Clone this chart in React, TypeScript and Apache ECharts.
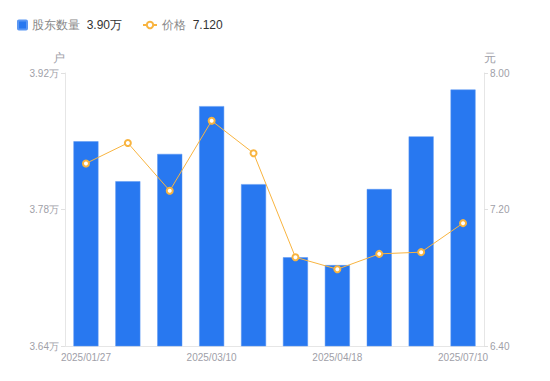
import React, { useEffect, useRef } from "react";
import * as echarts from "echarts";

const categories = [
  "2025/01/27", "2025/02/10", "2025/02/28", "2025/03/10", "2025/03/20",
  "2025/03/31", "2025/04/18", "2025/04/30", "2025/06/20", "2025/07/10",
];
const holders = [3.850, 3.809, 3.837, 3.886, 3.806, 3.731, 3.723, 3.801, 3.855, 3.903];
const prices = [7.47, 7.59, 7.31, 7.72, 7.53, 6.92, 6.85, 6.94, 6.95, 7.12];
const holderName = "股东数量";
const priceName = "价格";

export default function App() {
  const ref = useRef<HTMLDivElement>(null);
  useEffect(() => {
    if (!ref.current) return;
    const chart = echarts.init(ref.current, undefined, { renderer: "svg" });
    const lastH = holders[holders.length - 1].toFixed(2) + "万";
    const lastP = prices[prices.length - 1].toFixed(3);
    const font = "sans-serif";
    const legendText = {
      rich: {
        n: { color: "#888", fontSize: 12, fontFamily: font },
        v: { color: "#333", fontSize: 12, fontFamily: font },
      },
    };
    chart.setOption({
      animation: false,
      textStyle: { fontFamily: font },
      legend: [
        {
          left: 12,
          top: 14,
          itemWidth: 9,
          itemHeight: 9,
          itemGap: 5,
          data: [
            { name: holderName, icon: "path://M1,0H9A1,1,0,0,1,10,1V9A1,1,0,0,1,9,10H1A1,1,0,0,1,0,9V1A1,1,0,0,1,1,0Z" },
          ],
          formatter: (name: string) => `{n|${name}}  {v|${lastH}}`,
          textStyle: legendText,
        },
        {
          left: 137,
          top: 14,
          itemWidth: 14,
          itemHeight: 8,
          data: [{ name: priceName }],
          formatter: (name: string) => `{n|${name}}  {v|${lastP}}`,
          textStyle: legendText,
        },
      ],
      grid: { left: 65, right: 66, top: 73, bottom: 35 },
      xAxis: {
        type: "category",
        data: categories,
        axisLine: { lineStyle: { color: "#e6e6e6" } },
        axisTick: { show: false },
        axisLabel: { color: "#a0a0a8", fontSize: 10, interval: 2, margin: 6 },
      },
      yAxis: [
        {
          type: "value",
          name: "户",
          nameGap: 9,
          nameTextStyle: { color: "#a0a0a8", fontSize: 12, align: "right" },
          min: 3.64,
          max: 3.92,
          interval: 0.14,
          axisLine: { show: true, lineStyle: { color: "#e6e6e6" } },
          axisTick: { show: true, length: 4, lineStyle: { color: "#e0e0e0" } },
          splitLine: { show: false },
          axisLabel: {
            color: "#a0a0a8",
            fontSize: 10,
            margin: 6,
            formatter: (v: number) => v.toFixed(2) + "万",
          },
        },
        {
          type: "value",
          name: "元",
          nameGap: 9,
          nameTextStyle: { color: "#a0a0a8", fontSize: 12, align: "left" },
          min: 6.4,
          max: 8.0,
          interval: 0.8,
          position: "right",
          axisLine: { show: true, lineStyle: { color: "#e6e6e6" } },
          axisTick: { show: true, length: 4, lineStyle: { color: "#e0e0e0" } },
          splitLine: { show: false },
          axisLabel: {
            color: "#a0a0a8",
            fontSize: 10,
            margin: 6,
            formatter: (v: number) => v.toFixed(2),
          },
        },
      ],
      series: [
        {
          name: holderName,
          type: "bar",
          yAxisIndex: 0,
          data: holders,
          barWidth: 25,
          itemStyle: { color: "#2878f0", borderColor: "#5b97f3", borderWidth: 0.5 },
        },
        {
          name: priceName,
          type: "line",
          yAxisIndex: 1,
          data: prices,
          symbol: "emptyCircle",
          symbolSize: 6,
          lineStyle: { color: "#f8b440", width: 1 },
          itemStyle: { color: "#f8b440", borderWidth: 2 },
        },
      ],
    });
    return () => chart.dispose();
  }, []);
  return <div ref={ref} style={{ width: 550, height: 381, position: "absolute", left: 0, top: 0 }} />;
}
